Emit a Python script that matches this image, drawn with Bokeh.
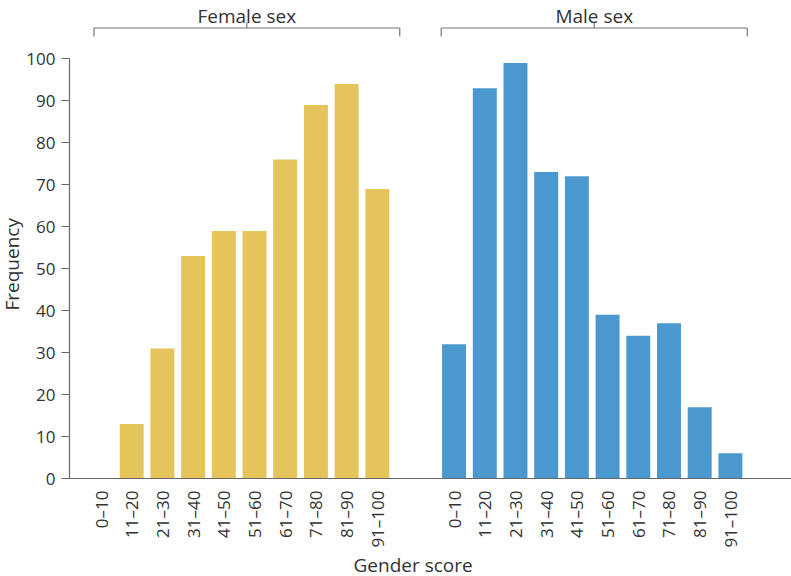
import math
from bokeh.plotting import figure
from bokeh.models import FixedTicker, Range1d, Title
from bokeh.core.properties import value
from bokeh.embed import file_html
from bokeh.resources import INLINE

# ---- data ----
bins = ["0–10", "11–20", "21–30", "31–40", "41–50",
        "51–60", "61–70", "71–80", "81–90", "91–100"]
female = [0, 13, 31, 53, 59, 59, 76, 89, 94, 69]
male = [32, 93, 99, 73, 72, 39, 34, 37, 17, 6]
groups = ["Female sex", "Male sex"]
y_ticks = list(range(0, 101, 10))

FONT = "Open Sans"
TXT = "#333333"
AXIS = "#666666"
YELLOW = "#E5C45B"
BLUE = "#4B98CF"

n = len(bins)
GAP = 2.5
female_x = [float(i) for i in range(n)]
male_x = [n - 1 + GAP + i for i in range(n)]

p = figure(width=791, height=576, output_backend="svg", toolbar_location=None,
           x_range=Range1d(-1.026, 22.49), y_range=Range1d(0, 113.89),
           min_border_left=69, min_border_right=0, min_border_top=0,
           min_border_bottom=98)
p.outline_line_color = None
p.xgrid.visible = False
p.ygrid.visible = False
p.background_fill_color = "white"

p.vbar(x=female_x, top=female, bottom=0, width=0.78,
       fill_color=YELLOW, line_color=None)
p.vbar(x=male_x, top=male, bottom=0, width=0.78,
       fill_color=BLUE, line_color=None)

# x axis
xa = p.xaxis[0]
xa.ticker = FixedTicker(ticks=female_x + male_x)
overrides = {}
for xv, lab in zip(female_x, bins):
    overrides[xv] = lab
for xv, lab in zip(male_x, bins):
    overrides[xv] = lab
xa.major_label_overrides = overrides
xa.major_label_orientation = math.pi / 2
xa.major_tick_line_color = None
xa.minor_tick_line_color = None
xa.axis_line_color = AXIS
xa.axis_line_width = 1.2
xa.major_label_standoff = 6
xa.major_label_text_font = FONT
xa.major_label_text_font_size = "17px"
xa.major_label_text_color = TXT

# y axis
ya = p.yaxis[0]
ya.ticker = FixedTicker(ticks=y_ticks)
ya.bounds = (0, 100)
ya.major_tick_out = 8
ya.major_tick_in = 0
ya.major_tick_line_color = AXIS
ya.minor_tick_line_color = None
ya.axis_line_color = AXIS
ya.axis_line_width = 1.2
ya.major_label_standoff = 6
ya.major_label_text_font = FONT
ya.major_label_text_font_size = "17px"
ya.major_label_text_color = TXT

# group brackets on top
spans = [(female_x[0] - 0.23, female_x[-1] + 0.73),
         (male_x[0] - 0.42, male_x[-1] + 0.55)]
BR_Y, BR_END, BR_TOP, TXT_Y = 107.34, 105.31, 108.65, 110.08
x0s, y0s, x1s, y1s = [], [], [], []
cx = []
for (a, b) in spans:
    c = (a + b) / 2
    cx.append(c)
    x0s += [a, a, b, c]
    y0s += [BR_Y, BR_END, BR_END, BR_Y]
    x1s += [b, a, b, c]
    y1s += [BR_Y, BR_Y, BR_Y, BR_TOP]
p.segment(x0=x0s, y0=y0s, x1=x1s, y1=y1s, line_color="#777777", line_width=1.2)
p.text(x=cx, y=[TXT_Y] * len(cx), text=groups, text_align="center",
       text_baseline="alphabetic", text_font=value(FONT),
       text_font_size="19px", text_color=TXT)

# axis titles
p.add_layout(Title(text="Gender score", align="left", offset=284, standoff=-2,
                   text_font=FONT, text_font_size="19px",
                   text_font_style="normal", text_color=TXT), "below")
p.add_layout(Title(text="Frequency", align="left", offset=168, standoff=-6,
                   vertical_align="top",
                   text_font=FONT, text_font_size="19px",
                   text_font_style="normal", text_color=TXT), "left")

open("out.html", "w").write(file_html(p, INLINE))
